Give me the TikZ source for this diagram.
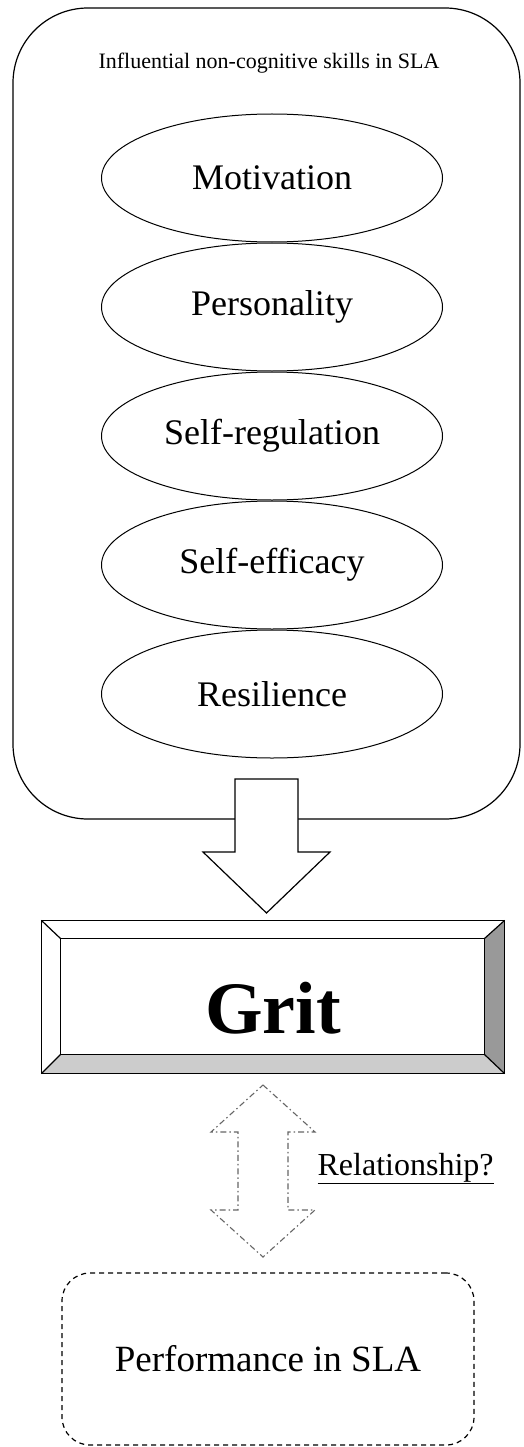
\documentclass[tikz,border=0pt]{standalone}
\usepackage{fontspec}
\setmainfont{Liberation Serif}
\usepackage{tikz}
\usetikzlibrary{arrows,shapes.geometric}
\definecolor{bevdark}{gray}{0.6}
\definecolor{bevlight}{gray}{0.8}
\definecolor{relgray}{gray}{0.4}
\tikzset{
  skill/.style={ellipse, draw, line width=1pt, minimum width=341pt, minimum height=128pt,
    inner sep=0pt, font=\fontsize{36}{40}\selectfont},
  relarrow/.style={relgray, line width=1.1pt,
    dash pattern=on 6pt off 3pt on 1.5pt off 3pt},
}

\begin{document}
\begin{tikzpicture}[x=1pt, y=-1pt, line width=1.2pt]
\useasboundingbox (0,0) rectangle (523,1447);
% рамка навыков
\node [draw, rounded corners=75pt, minimum width=507pt, minimum height=811pt, inner sep=0pt] (skills) at (266.5,413.5) {};
\node [font=\fontsize{22}{26}\selectfont] (title) at (269,63) {Influential non-cognitive skills in SLA};
% эллипсы
\node [skill] (mot) at (272,178) {Motivation};
\node [skill] (pers) at (272,307) {Personality};
\node [skill] (sreg) at (272,436) {Self-regulation};
\node [skill] (seff) at (272,565) {Self-efficacy};
\node [skill] (res) at (272,694) {Resilience};
% стрелка вниз
\coordinate (gtip) at (266.5,913);
\draw [fill=white] (gtip) -- ++(-63.5,-61) -- ++(32,0) -- ++(0,-73) -- ++(63,0)
  -- ++(0,73) -- ++(32,0) -- cycle;
% Grit
\node [minimum width=462pt, minimum height=152pt, inner sep=0pt] (gout) at (273,997) {};
\node [minimum width=423pt, minimum height=115pt, inner sep=0pt] (gin) at (272.5,996.5) {};
\fill [bevdark] (gout.north east) -- (gout.south east) -- (gin.south east) -- (gin.north east) -- cycle;
\fill [bevlight] (gout.south west) -- (gout.south east) -- (gin.south east) -- (gin.south west) -- cycle;
\draw (gout.north west) rectangle (gout.south east);
\draw (gin.north west) rectangle (gin.south east);
\draw (gout.north west) -- (gin.north west);
\draw (gout.north east) -- (gin.north east);
\draw (gout.south west) -- (gin.south west);
\draw (gout.south east) -- (gin.south east);
\node [font=\bfseries\fontsize{74}{80}\selectfont] (grit) at (273,1008) {Grit};
% двойная стрелка
\coordinate (rtop) at (263,1085);
\draw [relarrow] (rtop) -- ++(52,47) -- ++(-27,0) -- ++(0,78) -- ++(27,0) -- ++(-52,47)
  -- ++(-52,-47) -- ++(27,0) -- ++(0,-78) -- ++(-27,0) -- cycle;
\node [anchor=base west, inner sep=0pt, font=\fontsize{32}{36}\selectfont] (rel) at (317,1175) {\underline{Relationship?}};
% результат
\node [draw, dash pattern=on 5pt off 4pt, rounded corners=28pt, minimum width=412pt,
  minimum height=172pt, font=\fontsize{37}{42}\selectfont] (perf) at (268,1359) {Performance in SLA};
\end{tikzpicture}
\end{document}
